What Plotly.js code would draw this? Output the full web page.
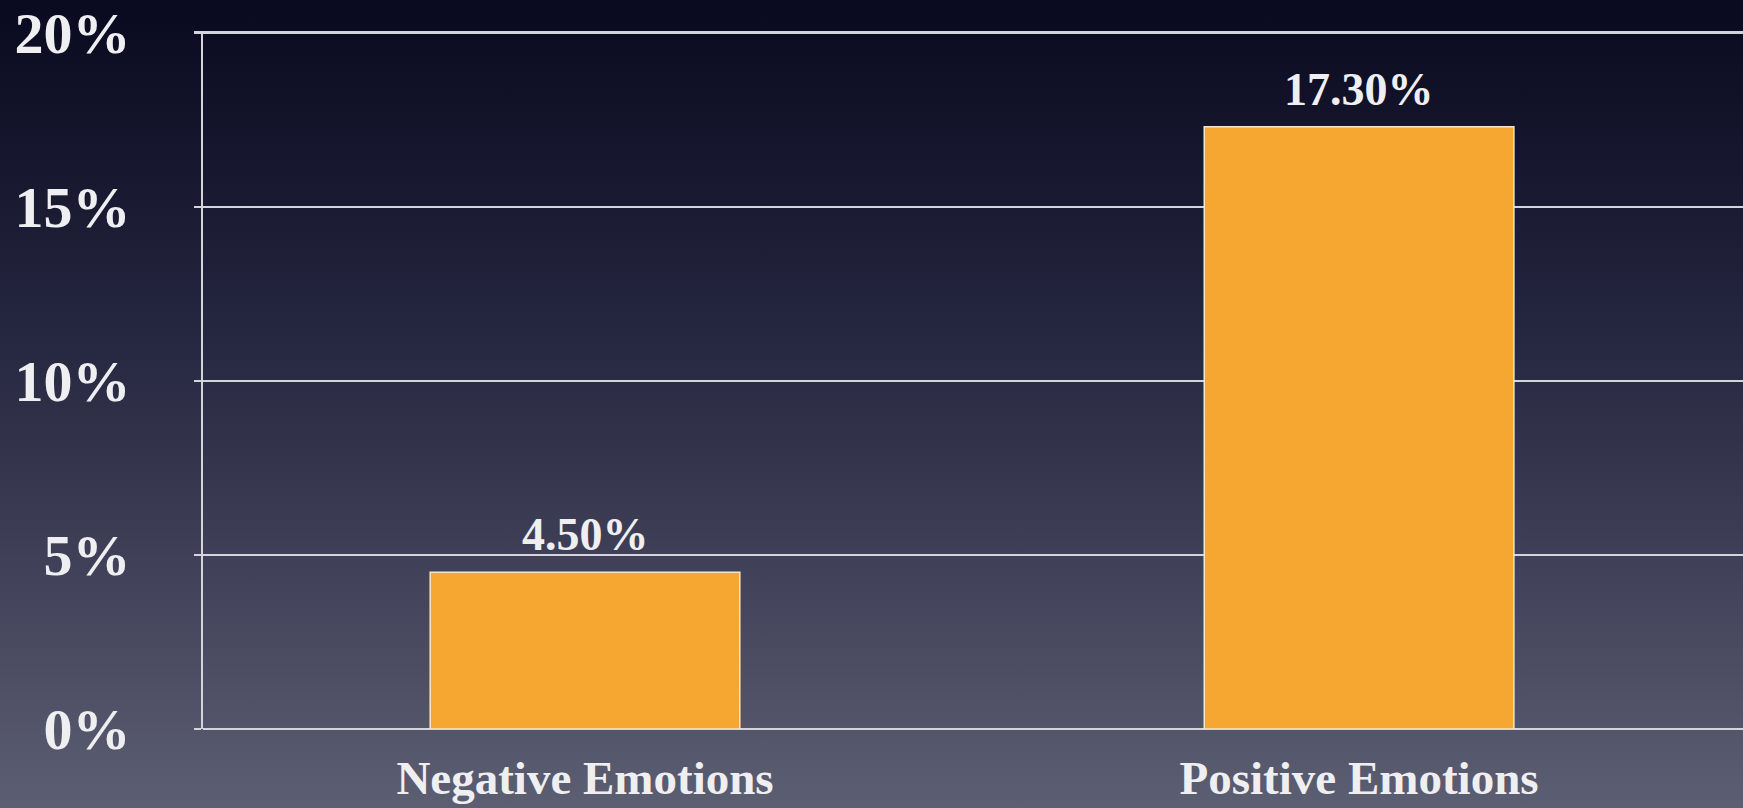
<!DOCTYPE html>
<html>
<head>
<meta charset="utf-8">
<script src="https://cdn.plot.ly/plotly-3.0.1.min.js"></script>
<style>
  html, body { margin: 0; padding: 0; width: 1743px; height: 808px; overflow: hidden; }
  body { background: linear-gradient(to bottom, #09091f 0%, #24253e 40%, #45465d 75%, #5c5e72 100%); }
  #chart { width: 1743px; height: 808px; }
</style>
</head>
<body>
<div id="chart"></div>
<script>
const categories = ["Negative Emotions", "Positive Emotions"];
const values = [4.5, 17.3];
const valueLabels = ["4.50%", "17.30%"];
const yTickVals = [0, 5, 10, 15, 20];
const yTickText = ["0%", "5%", "10%", "15%", "20%"];

const serif = "Liberation Serif, Times New Roman, serif";
const textColor = "#efeff2";
const lineColor = "#d4d5dc";

const trace = {
  type: "bar",
  x: categories,
  y: values,
  width: 0.4,
  marker: { color: "#f5a731", line: { color: "#f6e6c6", width: 1.5 } },
  hoverinfo: "skip"
};

const annotations = categories.map((c, i) => ({
  x: c, y: values[i], xref: "x", yref: "y",
  text: "<b>" + valueLabels[i] + "</b>",
  showarrow: false, yanchor: "bottom", yshift: 10,
  font: { family: serif, size: 46, color: textColor }
}));

const layout = {
  width: 1743, height: 808,
  paper_bgcolor: "rgba(0,0,0,0)",
  plot_bgcolor: "rgba(0,0,0,0)",
  margin: { l: 203, r: 0, t: 31, b: 79 },
  showlegend: false,
  annotations: annotations,
  xaxis: {
    type: "category",
    range: [-0.4935, 1.496],
    tickvals: categories,
    ticktext: categories.map(c => "<b>" + c + "</b>"),
    showgrid: false, zeroline: false,
    showline: false, ticks: "",
    tickfont: { family: serif, size: 47, color: textColor },
    ticklabelstandoff: 17,
    fixedrange: true
  },
  yaxis: {
    range: [0, 20.05],
    tickvals: yTickVals,
    ticktext: yTickText.map(t => "<b>" + t + "</b>"),
    showgrid: true, gridcolor: lineColor, gridwidth: 2.5,
    zeroline: true, zerolinecolor: lineColor, zerolinewidth: 2.5,
    showline: true, linecolor: lineColor, linewidth: 2,
    ticks: "outside", ticklen: 7, tickwidth: 2.5, tickcolor: lineColor,
    tickfont: { family: serif, size: 58, color: textColor },
    ticklabelstandoff: 52,
    fixedrange: true
  }
};

Plotly.newPlot("chart", [trace], layout, { displayModeBar: false, staticPlot: true });
</script>
</body>
</html>
